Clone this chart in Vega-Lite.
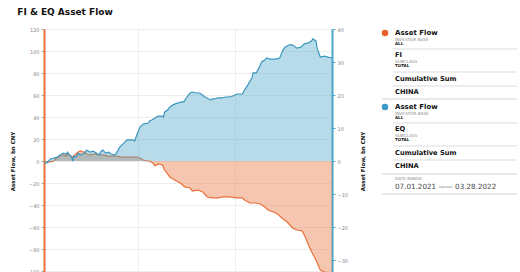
{
  "$schema": "https://vega.github.io/schema/vega-lite/v6.json",
  "padding": {"left": 10, "top": 8, "right": 0, "bottom": 0},
  "title": {"text": "FI & EQ Asset Flow", "anchor": "start", "font": "DejaVu Sans", "fontSize": 9, "fontWeight": "bold", "color": "#111111", "dx": 7, "offset": 10},
  "config": {"view": {"stroke": null}, "font": "DejaVu Sans"},
  "spacing": 46,
  "bounds": "flush",
  "datasets": {
    "fi": [
      {"date": "2021-07-01", "value": -0.9}, {"date": "2021-07-04", "value": -0.9}, {"date": "2021-07-07", "value": -0.9},
      {"date": "2021-07-10", "value": 0}, {"date": "2021-07-13", "value": 2.7}, {"date": "2021-07-16", "value": 4.5},
      {"date": "2021-07-19", "value": 5.5}, {"date": "2021-07-22", "value": 4.5}, {"date": "2021-07-23", "value": 6.4},
      {"date": "2021-07-25", "value": 5.5}, {"date": "2021-07-27", "value": 3.6}, {"date": "2021-07-29", "value": 4.5},
      {"date": "2021-07-31", "value": 6.4}, {"date": "2021-08-02", "value": 8.2}, {"date": "2021-08-04", "value": 9.1},
      {"date": "2021-08-07", "value": 8.2}, {"date": "2021-08-08", "value": 8.2}, {"date": "2021-08-10", "value": 6.4},
      {"date": "2021-08-13", "value": 5.5}, {"date": "2021-08-18", "value": 6.4}, {"date": "2021-08-22", "value": 5.5},
      {"date": "2021-08-25", "value": 5.5}, {"date": "2021-08-30", "value": 4.5}, {"date": "2021-09-04", "value": 4.5},
      {"date": "2021-09-07", "value": 4.5}, {"date": "2021-09-12", "value": 3.6}, {"date": "2021-09-17", "value": 3.6},
      {"date": "2021-09-21", "value": 3.6}, {"date": "2021-09-26", "value": 3.6}, {"date": "2021-09-29", "value": 2.7},
      {"date": "2021-10-02", "value": 0.9}, {"date": "2021-10-06", "value": 0}, {"date": "2021-10-08", "value": 0},
      {"date": "2021-10-11", "value": -1.8}, {"date": "2021-10-13", "value": -4.5}, {"date": "2021-10-16", "value": -2.7},
      {"date": "2021-10-20", "value": -3.6}, {"date": "2021-10-22", "value": -8.2}, {"date": "2021-10-27", "value": -14.5},
      {"date": "2021-10-30", "value": -16.4}, {"date": "2021-11-04", "value": -19.1}, {"date": "2021-11-07", "value": -20.9},
      {"date": "2021-11-10", "value": -23.6}, {"date": "2021-11-15", "value": -24.5}, {"date": "2021-11-17", "value": -27.3},
      {"date": "2021-11-22", "value": -26.4}, {"date": "2021-11-27", "value": -28.2}, {"date": "2021-12-01", "value": -32.7},
      {"date": "2021-12-06", "value": -33.6}, {"date": "2021-12-11", "value": -33.6}, {"date": "2021-12-16", "value": -32.7},
      {"date": "2021-12-22", "value": -32.7}, {"date": "2021-12-29", "value": -33.6}, {"date": "2022-01-03", "value": -33.6},
      {"date": "2022-01-05", "value": -35.5}, {"date": "2022-01-10", "value": -38.2}, {"date": "2022-01-15", "value": -38.2},
      {"date": "2022-01-20", "value": -39.1}, {"date": "2022-01-24", "value": -41.8}, {"date": "2022-01-27", "value": -44.5},
      {"date": "2022-02-01", "value": -46.4}, {"date": "2022-02-05", "value": -48.2}, {"date": "2022-02-09", "value": -51.8},
      {"date": "2022-02-14", "value": -55.5}, {"date": "2022-02-19", "value": -60.9}, {"date": "2022-02-23", "value": -62.7},
      {"date": "2022-02-28", "value": -63.6}, {"date": "2022-03-03", "value": -69.1}, {"date": "2022-03-06", "value": -76.4},
      {"date": "2022-03-09", "value": -82.7}, {"date": "2022-03-12", "value": -88.2}, {"date": "2022-03-15", "value": -94.5},
      {"date": "2022-03-17", "value": -99.1}, {"date": "2022-03-21", "value": -100.9}, {"date": "2022-03-24", "value": -101.8},
      {"date": "2022-03-28", "value": -102.7}
    ],
    "eq": [
      {"date": "2021-07-01", "value": -0.6}, {"date": "2021-07-04", "value": -0.6}, {"date": "2021-07-07", "value": 0.6},
      {"date": "2021-07-10", "value": 0.9}, {"date": "2021-07-13", "value": 1.1}, {"date": "2021-07-16", "value": 1.8},
      {"date": "2021-07-19", "value": 2.4}, {"date": "2021-07-22", "value": 2.1}, {"date": "2021-07-23", "value": 2.7},
      {"date": "2021-07-25", "value": 1.8}, {"date": "2021-07-27", "value": 1.2}, {"date": "2021-07-28", "value": 0.0},
      {"date": "2021-07-29", "value": 1.5}, {"date": "2021-07-31", "value": 1.2}, {"date": "2021-08-02", "value": 2.4},
      {"date": "2021-08-04", "value": 1.8}, {"date": "2021-08-06", "value": 2.1}, {"date": "2021-08-08", "value": 2.4},
      {"date": "2021-08-10", "value": 3.3}, {"date": "2021-08-13", "value": 2.7}, {"date": "2021-08-16", "value": 3.0},
      {"date": "2021-08-19", "value": 2.4}, {"date": "2021-08-22", "value": 1.8}, {"date": "2021-08-23", "value": 2.7},
      {"date": "2021-08-25", "value": 3.3}, {"date": "2021-08-28", "value": 2.4}, {"date": "2021-08-31", "value": 2.7},
      {"date": "2021-09-02", "value": 2.1}, {"date": "2021-09-05", "value": 1.8}, {"date": "2021-09-07", "value": 2.4},
      {"date": "2021-09-10", "value": 4.2}, {"date": "2021-09-14", "value": 5.5}, {"date": "2021-09-17", "value": 6.4},
      {"date": "2021-09-20", "value": 6.4}, {"date": "2021-09-22", "value": 6.4}, {"date": "2021-09-24", "value": 6.1},
      {"date": "2021-09-26", "value": 7.9}, {"date": "2021-09-29", "value": 10.3}, {"date": "2021-10-02", "value": 11.2},
      {"date": "2021-10-07", "value": 11.5}, {"date": "2021-10-08", "value": 12.1}, {"date": "2021-10-10", "value": 12.4},
      {"date": "2021-10-13", "value": 13.0}, {"date": "2021-10-16", "value": 13.6}, {"date": "2021-10-20", "value": 13.6},
      {"date": "2021-10-21", "value": 13.3}, {"date": "2021-10-22", "value": 14.8}, {"date": "2021-10-25", "value": 15.5},
      {"date": "2021-10-27", "value": 16.4}, {"date": "2021-10-30", "value": 17.0}, {"date": "2021-11-01", "value": 17.3},
      {"date": "2021-11-04", "value": 17.6}, {"date": "2021-11-07", "value": 17.9}, {"date": "2021-11-09", "value": 17.9},
      {"date": "2021-11-12", "value": 19.4}, {"date": "2021-11-15", "value": 20.6}, {"date": "2021-11-17", "value": 20.9},
      {"date": "2021-11-21", "value": 20.6}, {"date": "2021-11-24", "value": 20.6}, {"date": "2021-11-29", "value": 19.4},
      {"date": "2021-12-04", "value": 18.5}, {"date": "2021-12-06", "value": 18.8}, {"date": "2021-12-08", "value": 18.8},
      {"date": "2021-12-11", "value": 19.1}, {"date": "2021-12-15", "value": 19.1}, {"date": "2021-12-18", "value": 19.4},
      {"date": "2021-12-21", "value": 19.4}, {"date": "2021-12-25", "value": 19.7}, {"date": "2021-12-29", "value": 20.3},
      {"date": "2022-01-03", "value": 20.3}, {"date": "2022-01-05", "value": 21.5}, {"date": "2022-01-08", "value": 23.0},
      {"date": "2022-01-12", "value": 25.2}, {"date": "2022-01-13", "value": 26.7}, {"date": "2022-01-16", "value": 26.7},
      {"date": "2022-01-19", "value": 28.5}, {"date": "2022-01-21", "value": 30.0}, {"date": "2022-01-24", "value": 30.6},
      {"date": "2022-01-26", "value": 31.2}, {"date": "2022-01-29", "value": 30.9}, {"date": "2022-02-03", "value": 30.9},
      {"date": "2022-02-07", "value": 31.2}, {"date": "2022-02-10", "value": 33.6}, {"date": "2022-02-12", "value": 34.5},
      {"date": "2022-02-16", "value": 35.2}, {"date": "2022-02-19", "value": 35.2}, {"date": "2022-02-23", "value": 34.2},
      {"date": "2022-02-27", "value": 34.5}, {"date": "2022-03-02", "value": 35.5}, {"date": "2022-03-06", "value": 35.8},
      {"date": "2022-03-09", "value": 36.4}, {"date": "2022-03-10", "value": 37.0}, {"date": "2022-03-13", "value": 36.4},
      {"date": "2022-03-14", "value": 34.2}, {"date": "2022-03-17", "value": 31.5}, {"date": "2022-03-21", "value": 31.8},
      {"date": "2022-03-24", "value": 31.5}, {"date": "2022-03-28", "value": 31.2}
    ],
    "legend": [
      {"pos": 4, "kind": "head", "series": "FI", "text": "Asset Flow"},
      {"pos": 10.5, "kind": "cap", "text": "INVESTOR BASE"},
      {"pos": 15, "kind": "val", "text": "ALL"},
      {"pos": 20, "kind": "sep"},
      {"pos": 26, "kind": "item", "text": "FI"},
      {"pos": 32.5, "kind": "cap", "text": "SUBCLASS"},
      {"pos": 37, "kind": "val", "text": "TOTAL"},
      {"pos": 43, "kind": "sep"},
      {"pos": 50, "kind": "item", "text": "Cumulative Sum"},
      {"pos": 57, "kind": "sep"},
      {"pos": 63, "kind": "item", "text": "CHINA"},
      {"pos": 70, "kind": "full"},
      {"pos": 78, "kind": "head", "series": "EQ", "text": "Asset Flow"},
      {"pos": 84.5, "kind": "cap", "text": "INVESTOR BASE"},
      {"pos": 89, "kind": "val", "text": "ALL"},
      {"pos": 94, "kind": "sep"},
      {"pos": 100, "kind": "item", "text": "EQ"},
      {"pos": 106.5, "kind": "cap", "text": "SUBCLASS"},
      {"pos": 111, "kind": "val", "text": "TOTAL"},
      {"pos": 117, "kind": "sep"},
      {"pos": 124, "kind": "item", "text": "Cumulative Sum"},
      {"pos": 131, "kind": "sep"},
      {"pos": 137, "kind": "item", "text": "CHINA"},
      {"pos": 145, "kind": "full"},
      {"pos": 150, "kind": "cap", "text": "DATE RANGE:"},
      {"pos": 158, "kind": "date", "text": "07.01.2021 —— 03.28.2022"},
      {"pos": 165, "kind": "full"}
    ]
  },
  "hconcat": [
    {
      "width": 288,
      "height": 264,
      "encoding": {
        "x": {
          "field": "date", "type": "temporal",
          "scale": {"nice": false},
          "axis": {"labels": false, "ticks": false, "domain": false, "title": null, "grid": true,
                   "values": [{"year": 2021, "month": 9, "date": 27}, {"year": 2021, "month": 12, "date": 27}],
                   "gridColor": "#dcdcdc", "gridDash": [1, 1]}
        }
      },
      "layer": [
        {
          "data": {"name": "fi"},
          "encoding": {
            "y": {
              "field": "value", "type": "quantitative",
              "scale": {"domain": [-120, 120], "nice": false},
              "axis": {"orient": "left", "title": "Asset Flow, bn CNY",
                       "values": [-100, -80, -60, -40, -20, 0, 20, 40, 60, 80, 100, 120],
                       "domainColor": "#E8703A", "domainWidth": 2, "tickColor": "#aaaaaa", "tickSize": 3,
                       "labelFontSize": 5, "labelColor": "#888888", "labelPadding": 2,
                       "titleFontSize": 5.5, "titleFontWeight": "bold", "titleColor": "#111111", "titlePadding": 10,
                       "grid": true, "gridColor": "#dcdcdc", "gridDash": [1, 1]}
            }
          },
          "layer": [
            {"mark": {"type": "area", "color": "#E8703A", "opacity": 0.4}},
            {"mark": {"type": "line", "color": "#E8703A", "strokeWidth": 1.2}}
          ]
        },
        {
          "data": {"name": "eq"},
          "encoding": {
            "y": {
              "field": "value", "type": "quantitative",
              "scale": {"domain": [-40, 40], "nice": false},
              "axis": {"orient": "right", "title": "Asset Flow, bn CNY",
                       "values": [-30, -20, -10, 0, 10, 20, 30, 40],
                       "domainColor": "#4AA5C8", "domainWidth": 2, "tickColor": "#4AA5C8", "tickSize": 3,
                       "labelFontSize": 5, "labelColor": "#888888", "labelPadding": 2,
                       "titleFontSize": 5.5, "titleFontWeight": "bold", "titleColor": "#111111", "titlePadding": 13,
                       "titleAngle": 270, "titleBaseline": "top",
                       "grid": false}
            }
          },
          "layer": [
            {"mark": {"type": "area", "color": "#4AA5C8", "opacity": 0.4}},
            {"mark": {"type": "line", "color": "#3A96BE", "strokeWidth": 1.2}}
          ]
        }
      ],
      "resolve": {"scale": {"y": "independent"}}
    },
    {
      "width": 140,
      "height": 264,
      "data": {"name": "legend"},
      "encoding": {
        "y": {"field": "pos", "type": "quantitative", "scale": {"domain": [0, 264], "reverse": true, "nice": false}, "axis": null}
      },
      "layer": [
        {
          "transform": [{"filter": "datum.kind === 'sep'"}],
          "mark": {"type": "rule", "color": "#d4d4d4", "strokeWidth": 0.8},
          "encoding": {"x": {"datum": 15, "type": "quantitative", "scale": {"domain": [0, 140], "nice": false}, "axis": null}, "x2": {"datum": 139}}
        },
        {
          "transform": [{"filter": "datum.kind === 'full'"}],
          "mark": {"type": "rule", "color": "#c8c8c8", "strokeWidth": 0.8},
          "encoding": {"x": {"datum": 4, "type": "quantitative"}, "x2": {"datum": 139}}
        },
        {
          "transform": [{"filter": "datum.kind === 'head'"}],
          "mark": {"type": "point", "filled": true, "size": 42, "opacity": 1},
          "encoding": {
            "x": {"datum": 7, "type": "quantitative"},
            "color": {"field": "series", "type": "nominal", "scale": {"domain": ["FI", "EQ"], "range": ["#E8612C", "#3C9ACB"]}, "legend": null}
          }
        },
        {
          "transform": [{"filter": "datum.kind === 'head'"}],
          "mark": {"type": "text", "align": "left", "baseline": "middle", "fontSize": 7, "fontWeight": "bold", "color": "#111111"},
          "encoding": {"x": {"datum": 17, "type": "quantitative"}, "text": {"field": "text"}}
        },
        {
          "transform": [{"filter": "datum.kind === 'item'"}],
          "mark": {"type": "text", "align": "left", "baseline": "middle", "fontSize": 6.7, "fontWeight": "bold", "color": "#111111"},
          "encoding": {"x": {"datum": 17, "type": "quantitative"}, "text": {"field": "text"}}
        },
        {
          "transform": [{"filter": "datum.kind === 'cap'"}],
          "mark": {"type": "text", "align": "left", "baseline": "middle", "fontSize": 4.2, "color": "#888888"},
          "encoding": {"x": {"datum": 17, "type": "quantitative"}, "text": {"field": "text"}}
        },
        {
          "transform": [{"filter": "datum.kind === 'val'"}],
          "mark": {"type": "text", "align": "left", "baseline": "middle", "fontSize": 4, "fontWeight": "bold", "color": "#111111"},
          "encoding": {"x": {"datum": 17, "type": "quantitative"}, "text": {"field": "text"}}
        },
        {
          "transform": [{"filter": "datum.kind === 'date'"}],
          "mark": {"type": "text", "align": "left", "baseline": "middle", "fontSize": 7.2, "color": "#444444"},
          "encoding": {"x": {"datum": 17, "type": "quantitative"}, "text": {"field": "text"}}
        }
      ]
    }
  ]
}
